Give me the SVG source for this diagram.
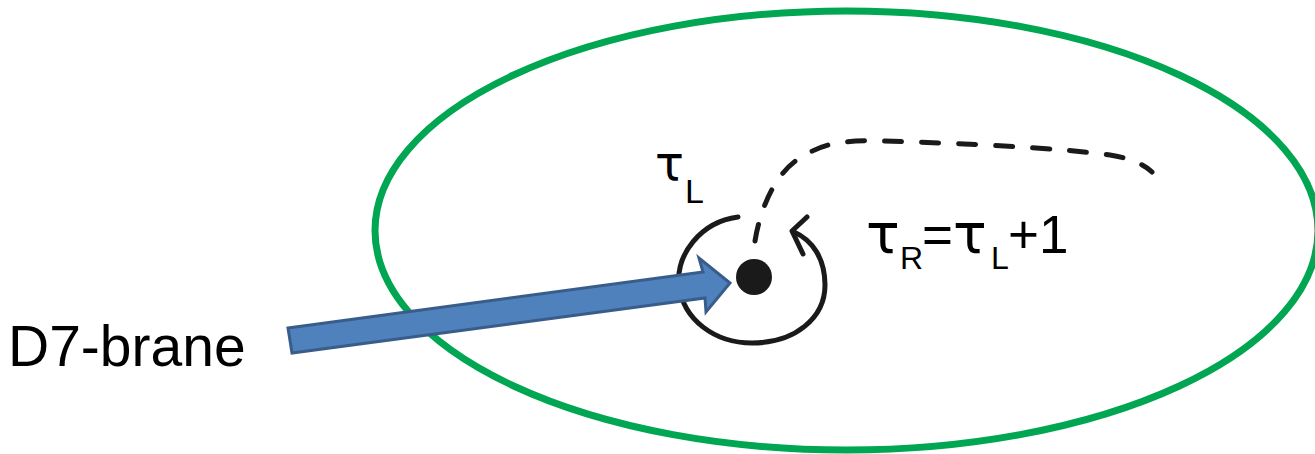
<svg xmlns="http://www.w3.org/2000/svg" width="1315" height="454" viewBox="0 0 1315 454">
  <style>
    .lbl { font-family: "Liberation Sans", Arial, sans-serif; fill: #000; }
    .tau { font-family: "DejaVu Sans", "Liberation Sans", sans-serif; }
    .ink { fill: none; stroke: #1a1a1a; stroke-width: 5; stroke-linecap: round; stroke-linejoin: round; }
  </style>
  <rect width="1315" height="454" fill="#fff"/>
  <g id="region">
    <ellipse cx="846.5" cy="230.5" rx="471.5" ry="219.5" fill="none" stroke="#00A651" stroke-width="7"/>
  </g>
  <g id="monodromy-loop">
    <path class="ink" d="M 738 217 C 700 222, 676 255, 679 285 C 683 320, 715 343, 752 343 C 795 343, 825 318, 825 285 C 825 258, 812 240, 794 232"/>
    <polyline class="ink" points="807,217 792,231 803,254"/>
  </g>
  <g id="branch-cut">
    <path class="ink" stroke-dasharray="17 20" stroke-linecap="butt" stroke-width="5.5" d="M 755 241 C 760 210, 775 170, 805 155 C 825 143, 845 140, 880 141 C 960 143, 1060 148, 1110 155 C 1130 158, 1145 165, 1152 172"/>
  </g>
  <g id="d7-brane-point">
    <circle cx="754" cy="277" r="18" fill="#1a1a1a"/>
  </g>
  <g id="connectors">
    <polygon points="288,328 703,272 699,258 730,283 706,312 705,298 292,353" fill="#4F81BD" stroke="#385D8A" stroke-width="3" stroke-linejoin="miter"/>
  </g>
  <g id="label-d7">
    <text class="lbl" x="8" y="366" font-size="57">D7-brane</text>
  </g>
  <g id="label-tauL">
    <text class="lbl" font-size="42"><tspan class="tau" x="655" y="180" font-size="48">τ</tspan><tspan x="685" y="203" font-size="34">L</tspan></text>
  </g>
  <g id="label-tauR">
    <text class="lbl" font-size="53"><tspan class="tau" x="866" y="253" font-size="56">τ</tspan><tspan x="900" y="269" font-size="32">R</tspan><tspan x="922" y="253">=</tspan><tspan class="tau" x="953" y="253" font-size="56">τ</tspan><tspan x="991" y="269" font-size="32">L</tspan><tspan x="1008" y="253">+1</tspan></text>
  </g>
</svg>
